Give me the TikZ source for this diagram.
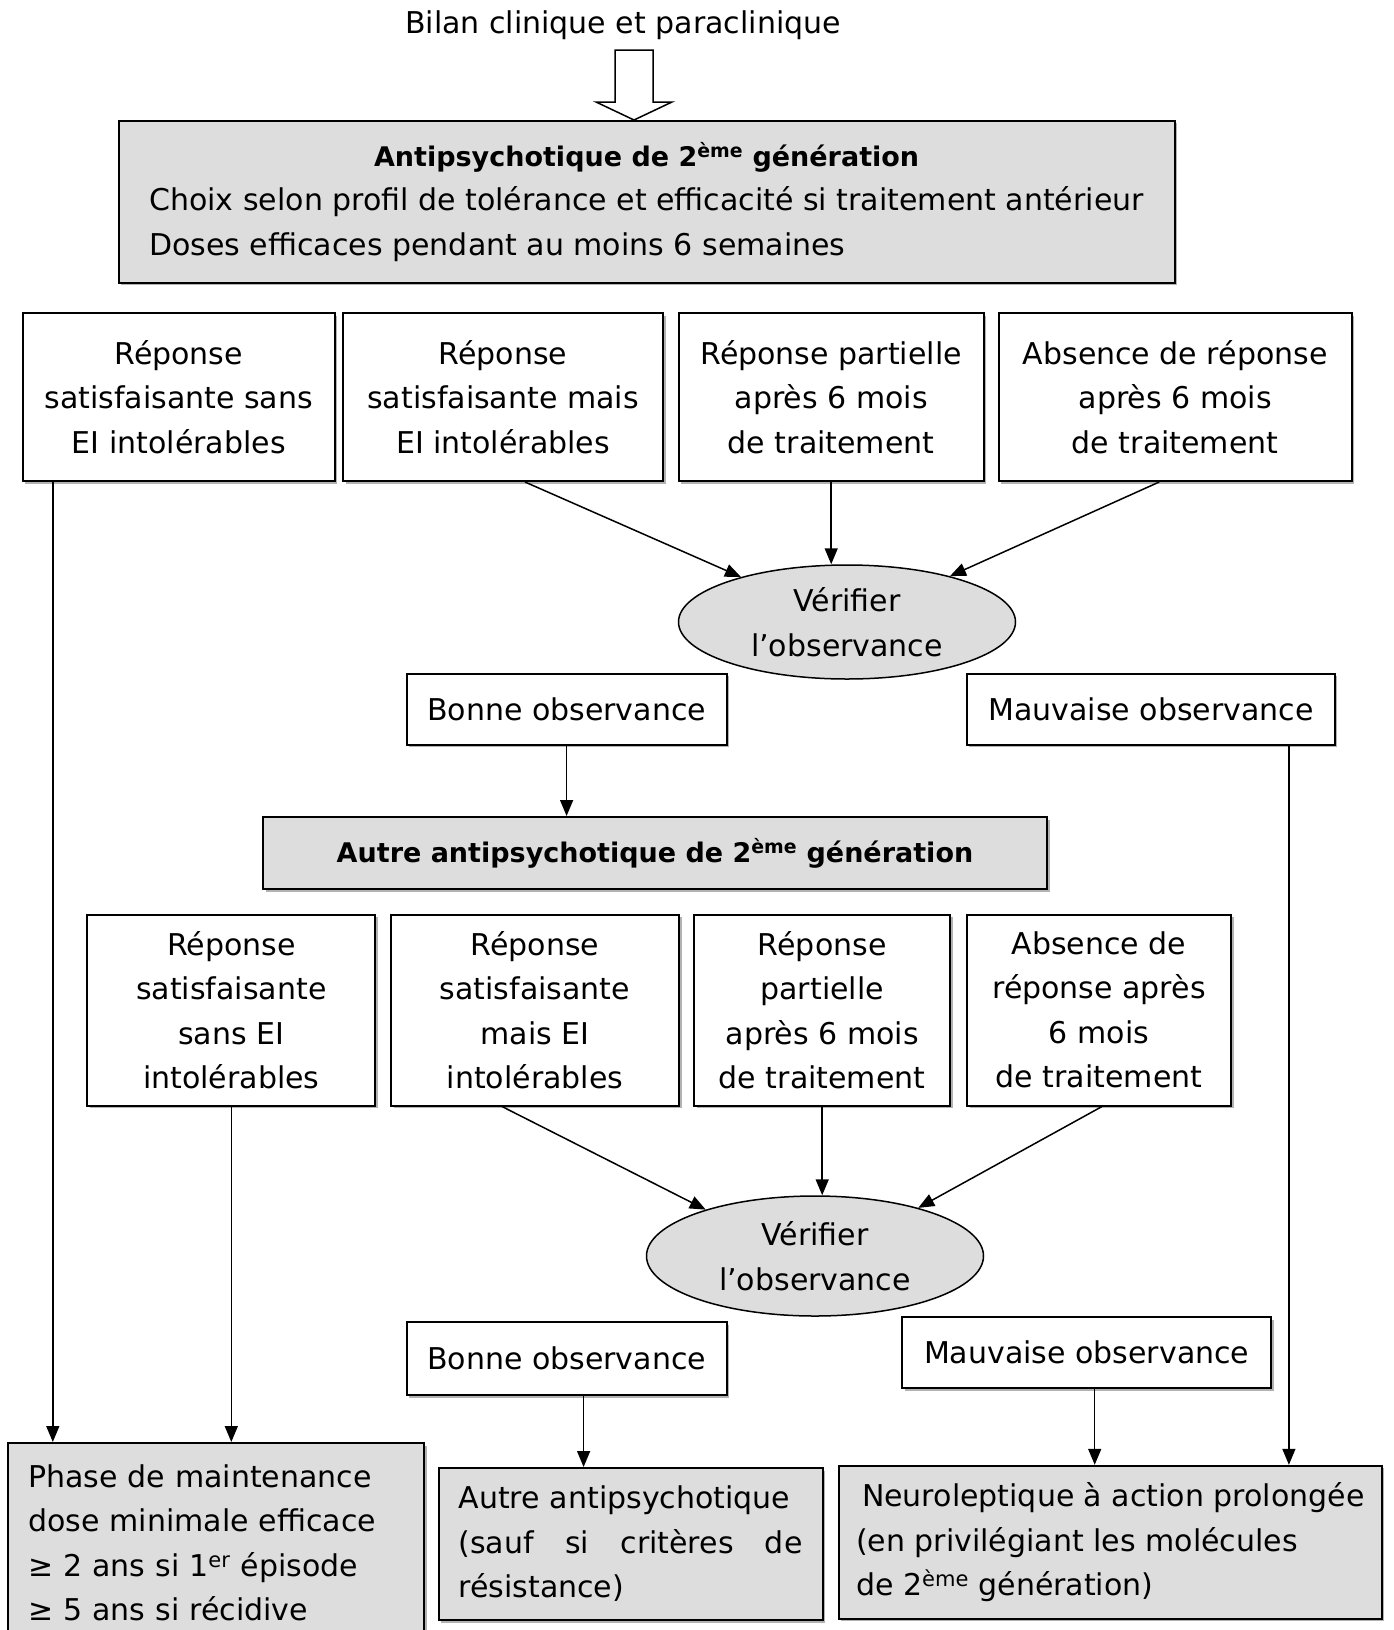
\documentclass[tikz,border=0pt]{standalone}
\usepackage{fontspec}
\setmainfont{DejaVu Sans}
\usetikzlibrary{shapes.geometric,arrows.meta,shadows}
\definecolor{fondgris}{RGB}{221,221,221}
\newcommand{\titregras}[1]{{\fontsize{27}{44.5}\selectfont\bfseries #1}}

\begin{document}
\begin{tikzpicture}[x=1pt, y=-1pt,
  font=\fontsize{30}{44.5}\selectfont,
  boite/.style={draw, line width=2pt, fill=white, align=center, inner sep=0pt,
    drop shadow={shadow xshift=2.5pt, shadow yshift=-2.5pt, fill=gray!60, opacity=1}},
  boitegrise/.style={boite, fill=fondgris},
  ovale/.style={ellipse, draw, line width=1.5pt, fill=fondgris, align=center, inner sep=0pt},
  fleche/.style={-{Triangle[length=16pt, width=13pt]}, line width=1.5pt}]

\useasboundingbox (0, 0) rectangle (1393, 1630);

 \node (bilan) at (623, 25) {Bilan clinique et paraclinique};

\draw[line width=1.5pt, fill=white] (615, 50) -- (653, 50) -- (653, 102) -- (672, 102)
   -- (634, 120) -- (596, 102) -- (615, 102) -- cycle;

 \node (gen2) at (646.6, 201.7) [boitegrise, minimum width=1056pt, minimum height=162pt]
   {\begin{tabular}{@{}l@{}}
    \multicolumn{1}{@{}c@{}}{\titregras{Antipsychotique de 2\textsuperscript{ème} génération}}\\
    Choix selon profil de tolérance et efficacité si traitement antérieur\\
    Doses efficaces pendant au moins 6 semaines
    \end{tabular}};

 \node (b1) at (178.8, 397) [boite, minimum width=312pt, minimum height=168pt]
   {Réponse\\satisfaisante sans\\EI intolérables};
 \node (b2) at (503, 397) [boite, minimum width=320pt, minimum height=168pt]
   {Réponse\\satisfaisante mais\\EI intolérables};
 \node (b3) at (831.2, 397) [boite, minimum width=305pt, minimum height=168pt]
   {Réponse partielle\\après 6 mois\\de traitement};
 \node (b4) at (1175.2, 397) [boite, minimum width=353pt, minimum height=168pt]
   {Absence de réponse\\après 6 mois\\de traitement};

 \node (bonne1) at (566.6, 709) [boite, minimum width=320pt, minimum height=71pt] {Bonne observance};
 \node (mauv1) at (1150.9, 709) [boite, minimum width=368pt, minimum height=71pt] {Mauvaise observance};

 \node (obs1) at (847, 622) [ovale, minimum width=337pt, minimum height=114pt] {Vérifier\\l’observance};

 \node (autre) at (655, 853) [boitegrise, minimum width=784pt, minimum height=72pt]
   {\titregras{Autre antipsychotique de 2\textsuperscript{ème} génération}};

 \node (c1) at (231.3, 1010) [boite, minimum width=288pt, minimum height=191pt]
   {Réponse\\satisfaisante\\sans EI\\intolérables};
 \node (c2) at (535, 1010) [boite, minimum width=288pt, minimum height=191pt]
   {Réponse\\satisfaisante\\mais EI\\intolérables};
 \node (c3) at (822.2, 1010) [boite, minimum width=256pt, minimum height=191pt]
   {Réponse\\partielle\\après 6 mois\\de traitement};
 \node (c4) at (1099, 1010) [boite, minimum width=264pt, minimum height=191pt]
   {Absence de\\réponse après\\6 mois\\de traitement};

 \node (bonne2) at (566.6, 1358.5) [boite, minimum width=320pt, minimum height=73pt] {Bonne observance};
 \node (mauv2) at (1086.7, 1352.5) [boite, minimum width=369pt, minimum height=71pt] {Mauvaise observance};

 \node (obs2) at (815, 1256) [ovale, minimum width=337pt, minimum height=120pt] {Vérifier\\l’observance};

 \node (phase) at (216.2, 1543) [boitegrise, minimum width=416pt, minimum height=200pt,
   text width=376pt, align=left]
   {Phase de maintenance\\dose minimale efficace\\≥ 2 ans si 1\textsuperscript{er} épisode\\≥ 5 ans si récidive};
 \node (autre2) at (630.5, 1544) [boitegrise, minimum width=384pt, minimum height=152pt,
   text width=344pt, align=left]
   {Autre antipsychotique\\\makebox[344pt]{(sauf\hfill si\hfill critères\hfill de}\\résistance)};
 \node (neuro) at (1110.3, 1542.3) [boitegrise, minimum width=543pt, minimum height=153pt, align=left]
   {\hspace*{6pt}Neuroleptique à action prolongée\\(en privilégiant les molécules\\de 2\textsuperscript{ème} génération)};

\draw[fleche] ([xshift=22pt]b2.south) -- (obs1.157);
\draw[fleche] (b3.south) -- (b3.south |- obs1.north);
\draw[fleche] ([xshift=-16pt]b4.south) -- (obs1.24);
\draw[fleche] (bonne1.south) -- (bonne1.south |- autre.north);

\draw[fleche] ([xshift=-33pt]c2.south) -- (obs2.157);
\draw[fleche] (c3.south) -- (c3.south |- obs2.north);
\draw[fleche] ([xshift=3pt]c4.south) -- (obs2.25);

\draw[fleche] ([xshift=-126pt]b1.south) -- ([xshift=-126pt]b1.south |- phase.north);
\draw[fleche] (c1.south) -- (c1.south |- phase.north);
\draw[fleche] ([xshift=138pt]mauv1.south) -- ([xshift=138pt]mauv1.south |- neuro.north);
\draw[fleche] ([xshift=17pt]bonne2.south) -- ([xshift=17pt]bonne2.south |- autre2.north);
\draw[fleche] ([xshift=8pt]mauv2.south) -- ([xshift=8pt]mauv2.south |- neuro.north);

\end{tikzpicture}
\end{document}
